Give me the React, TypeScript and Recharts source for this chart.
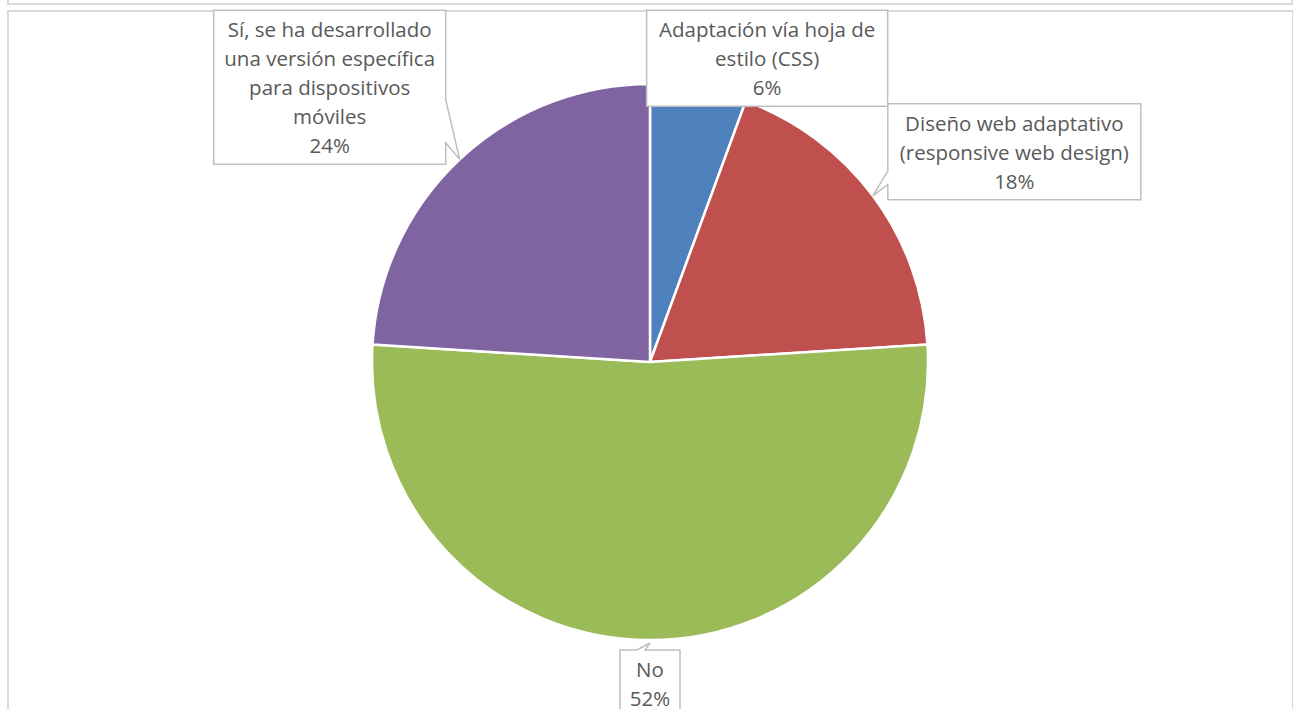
import React from 'react';
import { PieChart, Pie, Cell } from 'recharts';

const categories = [
  'Adaptación vía hoja de estilo (CSS)',
  'Diseño web adaptativo (responsive web design)',
  'No',
  'Sí, se ha desarrollado una versión específica para dispositivos móviles',
];
const counts = [7, 23, 65, 30];
const labelLines = [
  ['Adaptación vía hoja de', 'estilo (CSS)'],
  ['Diseño web adaptativo', '(responsive web design)'],
  ['No'],
  ['Sí, se ha desarrollado', 'una versión específica', 'para dispositivos', 'móviles'],
];
const colors = ['#4f81bd', '#c0504d', '#9bbb59', '#8064a2'];

// callout layout: box top-left offset from the slice's mid-edge point, box width, tail base fractions
const calloutLayout = [
  { dx: -52, dy: -78, w: 241, side: 'none', base: [0, 0] },
  { dx: 15, dy: -92, w: 253, side: 'left', base: [0.7, 0.84] },
  { dx: -30, dy: 10, w: 60, side: 'top', base: [0.28, 0.42] },
  { dx: -246, dy: -149, w: 232, side: 'right', base: [0.58, 0.86] },
];

const data = categories.map((name, i) => ({ name, value: counts[i] }));
const total = counts.reduce((a, b) => a + b, 0);

const RAD = Math.PI / 180;
const LINE_H = 29;
const FONT = '"Open Sans", sans-serif';

const renderCallout = (props: any) => {
  const { cx, cy, midAngle, outerRadius, index } = props;
  const ax = cx + Math.cos(-midAngle * RAD) * outerRadius;
  const ay = cy + Math.sin(-midAngle * RAD) * outerRadius;
  const lay = calloutLayout[index];
  const lines = [...labelLines[index], `${Math.round((counts[index] / total) * 100)}%`];
  const x0 = ax + lay.dx;
  const y0 = ay + lay.dy;
  const w = lay.w;
  const h = lines.length * LINE_H + 9;
  const x1 = x0 + w;
  const y1 = y0 + h;
  let d = '';
  if (lay.side === 'left') {
    const b1 = y0 + h * lay.base[0];
    const b2 = y0 + h * lay.base[1];
    d = `M${x0},${y0} L${x1},${y0} L${x1},${y1} L${x0},${y1} L${x0},${b2} L${ax},${ay} L${x0},${b1} Z`;
  } else if (lay.side === 'right') {
    const b1 = y0 + h * lay.base[0];
    const b2 = y0 + h * lay.base[1];
    d = `M${x0},${y0} L${x1},${y0} L${x1},${b1} L${ax},${ay} L${x1},${b2} L${x1},${y1} L${x0},${y1} Z`;
  } else if (lay.side === 'top') {
    const b1 = x0 + w * lay.base[0];
    const b2 = x0 + w * lay.base[1];
    d = `M${x0},${y0} L${b1},${y0} L${ax},${ay + 3} L${b2},${y0} L${x1},${y0} L${x1},${y1} L${x0},${y1} Z`;
  } else {
    d = `M${x0},${y0} L${x1},${y0} L${x1},${y1} L${x0},${y1} Z`;
  }
  return (
    <g key={`callout-${index}`}>
      <path d={d} fill="#ffffff" stroke="#bfbfbf" strokeWidth={1.5} />
      {lines.map((t, i) => (
        <text
          key={i}
          x={x0 + w / 2}
          y={y0 + 19 + i * LINE_H}
          textAnchor="middle"
          dominantBaseline="central"
          fill="#595959"
          fontSize={20.5}
          fontFamily={FONT}
        >
          {t}
        </text>
      ))}
    </g>
  );
};

export default function App() {
  return (
    <div style={{ position: 'absolute', left: 0, top: 0, width: 1293, height: 709, background: '#fff', overflow: 'hidden' }}>
      <div style={{ position: 'absolute', left: 7, top: -4, width: 1282, height: 7, border: '2px solid #d9d9d9', borderTop: 'none' }} />
      <div style={{ position: 'absolute', left: 7, top: 10, width: 1283, height: 720, border: '2px solid #d9d9d9', borderBottom: 'none' }} />
      <div style={{ position: 'absolute', left: 0, top: 0 }}>
        <PieChart width={1293} height={709} margin={{ top: 0, right: 0, bottom: 0, left: 0 }}>
          <Pie
            data={data}
            dataKey="value"
            nameKey="name"
            cx={650}
            cy={362}
            outerRadius={278}
            startAngle={90}
            endAngle={-270}
            stroke="#ffffff"
            strokeWidth={2.5}
            labelLine={false}
            label={renderCallout}
            isAnimationActive={false}
          >
            {data.map((_, i) => (
              <Cell key={i} fill={colors[i]} />
            ))}
          </Pie>
        </PieChart>
      </div>
    </div>
  );
}
